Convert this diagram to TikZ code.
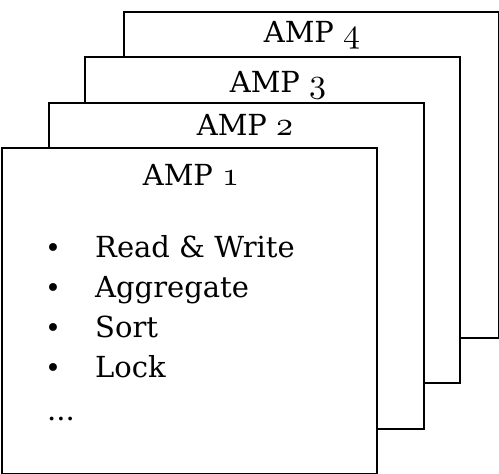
\documentclass[tikz,border=0pt]{standalone}
\usepackage{fontspec}
\usepackage{graphicx}
\setmainfont{DejaVu Serif}
\newcommand{\osn}[1]{{\fontsize{10}{12}\selectfont\scalebox{3.4}{$\mathnormal{#1}$}}}
\begin{document}
\begin{tikzpicture}[x=1pt,y=-1pt,
  amp/.style={draw=black, fill=white, line width=2.3pt, rectangle, anchor=north west, inner sep=0pt, minimum width=375pt, minimum height=326pt},
  lbl/.style={anchor=base, inner sep=0pt, font=\fontsize{29}{34}\selectfont},
  item/.style={anchor=base west, inner sep=0pt, font=\fontsize{29}{34}\selectfont},
  bul/.style={anchor=base, inner sep=0pt, font=\fontsize{27}{32}\selectfont}]
\useasboundingbox (0,0) rectangle (499,474);
\node[amp] (b4) at (123,11) {};
\node[lbl] (l4) at (312,42) {AMP \osn{4}};
\node[amp] (b3) at (84,56) {};
\node[lbl] (l3) at (278,92) {AMP \osn{3}};
\node[amp] (b2) at (48,101.5) {};
\node[lbl] (l2) at (245,135) {AMP \osn{2}};
\node[amp] (b1) at (1,147) {};
\node[lbl] (l1) at (191,185) {AMP \osn{1}};
\node[bul] (u1) at (53,257) {•};
\node[item] (t1) at (95,257) {Read \& Write};
\node[bul] (u2) at (53,297) {•};
\node[item] (t2) at (95,297) {Aggregate};
\node[bul] (u3) at (53,337) {•};
\node[item] (t3) at (95,337) {Sort};
\node[bul] (u4) at (53,377) {•};
\node[item] (t4) at (95,377) {Lock};
\node[item] (t5) at (47,420) {...};
\end{tikzpicture}
\end{document}
